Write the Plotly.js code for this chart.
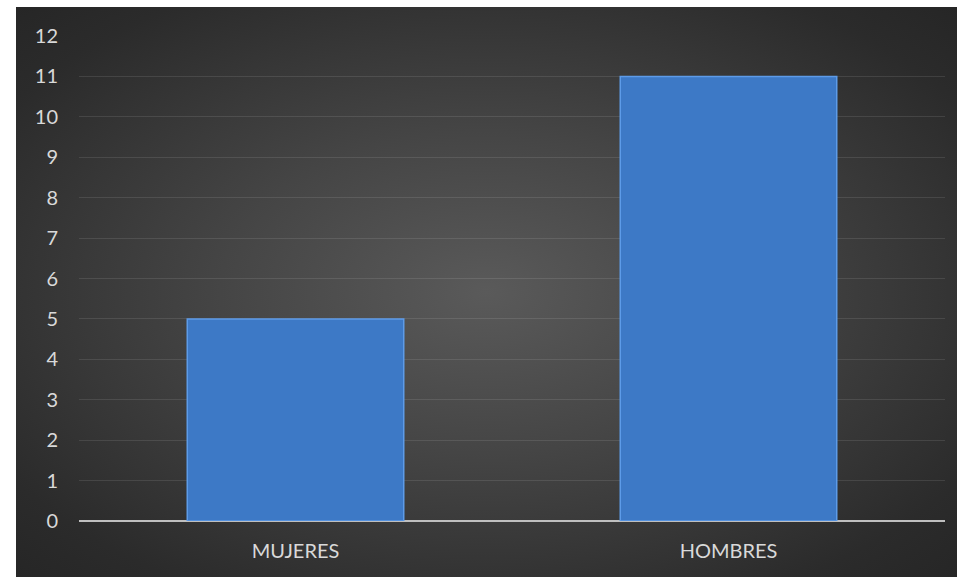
<!DOCTYPE html>
<html>
<head>
<meta charset="utf-8">
<script src="https://cdn.plot.ly/plotly-3.0.1.min.js"></script>
<style>
html,body{margin:0;padding:0;background:#ffffff;width:957px;height:577px;overflow:hidden;}
#wrap{position:absolute;left:16px;top:7px;width:941px;height:570px;
background:radial-gradient(ellipse at 50% 50%, #5a5a5a 0%, #454545 40%, #2b2b2b 85%, #262626 100%);}
#chart{width:941px;height:570px;}
</style>
</head>
<body>
<div id="wrap"><div id="chart"></div></div>
<script>
var categories = ["MUJERES", "HOMBRES"];
var values = [5, 11];
var yTicks = [0,1,2,3,4,5,6,7,8,9,10,11,12];

var trace = {
  type: 'bar',
  x: categories,
  y: values,
  marker: {color: '#3d79c6', line: {color: '#5d9be8', width: 1.5}},
  hoverinfo: 'none'
};

var layout = {
  width: 941, height: 570,
  margin: {l: 63, r: 12, t: 29, b: 56, pad: 0},
  paper_bgcolor: 'rgba(0,0,0,0)',
  plot_bgcolor: 'rgba(0,0,0,0)',
  bargap: 0.5,
  showlegend: false,
  font: {family: 'Lato, "Open Sans", sans-serif', size: 20, color: '#d9d9d9'},
  xaxis: {
    showgrid: false, zeroline: false, showline: false,
    ticks: '', ticklabelstandoff: 16,
    tickfont: {size: 20, color: '#d9d9d9'}
  },
  yaxis: {
    range: [0, 12], tickvals: yTicks, ticktext: yTicks.map(String),
    showgrid: true, gridcolor: 'rgba(255,255,255,0.10)', gridwidth: 1,
    zeroline: true, zerolinecolor: '#bfbfbf', zerolinewidth: 2,
    showline: false, ticks: '', ticklabelstandoff: 20,
    tickfont: {size: 20, color: '#d9d9d9'}
  }
};

Plotly.newPlot('chart', [trace], layout, {displayModeBar: false, staticPlot: true});
</script>
</body>
</html>
